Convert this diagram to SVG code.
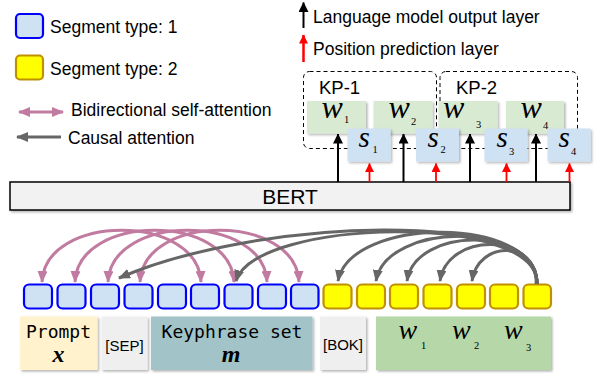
<svg xmlns="http://www.w3.org/2000/svg" width="595" height="374" viewBox="0 0 595 374">
<defs>
<style>
.lg{font-family:"Liberation Sans",Arial,sans-serif;font-size:17.5px;fill:#000}
.kp{font-family:"Liberation Sans",Arial,sans-serif;font-size:18.5px;fill:#000}
.tag{font-family:"Liberation Sans",Arial,sans-serif;font-size:15px;fill:#000;text-anchor:middle}
.mono{font-family:"DejaVu Sans Mono","Liberation Mono",monospace;font-size:18px;fill:#000;text-anchor:middle}
.bm{font-family:"Liberation Serif","DejaVu Serif",serif;font-style:italic;font-weight:bold;font-size:24px;text-anchor:middle}
.m{font-family:"Liberation Serif","DejaVu Serif",serif;font-style:italic;fill:#000}
.sub{font-family:"Liberation Serif","DejaVu Serif",serif;font-size:10.5px;fill:#000}
.tb{fill:#cfe2f3;stroke:#0000ff;stroke-width:2.2}
.ty{fill:#ffff00;stroke:#bf9000;stroke-width:2.2}
.wbox{fill:#d9ead3}
.sbox{fill:#cfe2f3}
.pink{fill:none;stroke:#c27ba0;stroke-width:3}
.gray{fill:none;stroke:#666666;stroke-width:3}
.blk{stroke:#000;stroke-width:2}
.red{stroke:#ff0000;stroke-width:1.8}
</style>
<filter id="sh" x="-10%" y="-10%" width="130%" height="140%">
<feDropShadow dx="1.5" dy="1.5" stdDeviation="1" flood-color="#000" flood-opacity="0.3"/>
</filter>
<marker id="ph" viewBox="0 0 12 10" refX="11" refY="5" markerWidth="12" markerHeight="10" markerUnits="userSpaceOnUse" orient="auto-start-reverse"><path d="M0,0 L12,5 L0,10 z" fill="#c27ba0"/></marker>
<marker id="gh" viewBox="0 0 12 10" refX="11" refY="5" markerWidth="12" markerHeight="10" markerUnits="userSpaceOnUse" orient="auto-start-reverse"><path d="M0,0 L12,5 L0,10 z" fill="#666666"/></marker>
<marker id="bh" viewBox="0 0 10 10" refX="9.5" refY="5" markerWidth="10" markerHeight="10" markerUnits="userSpaceOnUse" orient="auto"><path d="M0,0 L10,5 L0,10 z" fill="#000"/></marker>
<marker id="rh" viewBox="0 0 9 9" refX="8.5" refY="4.5" markerWidth="9" markerHeight="9" markerUnits="userSpaceOnUse" orient="auto"><path d="M0,0 L9,4.5 L0,9 z" fill="#ff0000"/></marker>
</defs>
<rect width="595" height="374" fill="#ffffff"/>

<g id="legend">
<rect x="16" y="14" width="27" height="24" rx="4" class="tb"/>
<text x="50" y="33" class="lg">Segment type: 1</text>
<rect x="16" y="55.5" width="27" height="24" rx="4" class="ty"/>
<text x="50" y="75" class="lg">Segment type: 2</text>
<line x1="19" y1="112" x2="63" y2="112" class="pink" marker-start="url(#ph)" marker-end="url(#ph)"/>
<text x="71" y="116" class="lg">Bidirectional self-attention</text>
<line x1="61" y1="137" x2="17" y2="137" class="gray" marker-end="url(#gh)"/>
<text x="68" y="143.5" class="lg">Causal attention</text>
<line x1="303.5" y1="28" x2="303.5" y2="2.5" class="blk" marker-end="url(#bh)"/>
<text x="313" y="22.5" class="lg">Language model output layer</text>
<line x1="303.5" y1="62" x2="303.5" y2="35" stroke="#ff0000" stroke-width="2.5" marker-end="url(#rh)"/>
<text x="313" y="55" class="lg">Position prediction layer</text>
</g>

<g id="kp1">
<rect x="303.5" y="71.5" width="133" height="77" rx="6" fill="none" stroke="#000" stroke-width="1" stroke-dasharray="4,3"/>
<text x="319" y="94" class="kp">KP-1</text>
</g>
<g id="kp2">
<rect x="440" y="71.5" width="137.5" height="77" rx="6" fill="none" stroke="#000" stroke-width="1" stroke-dasharray="4,3"/>
<text x="456" y="94" class="kp">KP-2</text>
</g>

<g id="w1"><rect x="307" y="101" width="59" height="32.5" class="wbox" filter="url(#sh)"/><text x="321.5" y="117.5" class="m" font-size="32">w</text><text x="344" y="123" class="sub">1</text></g>
<g id="w2"><rect x="373.5" y="101" width="59" height="32.5" class="wbox" filter="url(#sh)"/><text x="388.5" y="117.5" class="m" font-size="32">w</text><text x="411" y="124.5" class="sub">2</text></g>
<g id="w3"><rect x="438.5" y="101" width="59" height="32.5" class="wbox" filter="url(#sh)"/><text x="443" y="117.5" class="m" font-size="32">w</text><text x="476" y="128" class="sub" font-size="11.5">3</text></g>
<g id="w4"><rect x="506" y="101" width="58" height="32.5" class="wbox" filter="url(#sh)"/><text x="520.5" y="117.5" class="m" font-size="32">w</text><text x="543" y="128.5" class="sub" font-size="11.5">4</text></g>

<g id="s1"><rect x="347.5" y="128.5" width="43" height="33" class="sbox" filter="url(#sh)"/><text x="358.5" y="147" class="m" font-size="29">s</text><text x="372.5" y="153" class="sub">1</text></g>
<g id="s2"><rect x="416" y="128.5" width="43" height="33" class="sbox" filter="url(#sh)"/><text x="427.5" y="147" class="m" font-size="29">s</text><text x="440.5" y="153" class="sub">2</text></g>
<g id="s3"><rect x="484.5" y="128.5" width="43" height="33" class="sbox" filter="url(#sh)"/><text x="496.5" y="147" class="m" font-size="29">s</text><text x="509" y="155" class="sub" font-size="11.5">3</text></g>
<g id="s4"><rect x="547.5" y="128.5" width="43" height="33" class="sbox" filter="url(#sh)"/><text x="558.5" y="147" class="m" font-size="29">s</text><text x="571" y="155" class="sub" font-size="11.5">4</text></g>

<g id="bert">
<rect x="10" y="182" width="560" height="28" fill="#f2f2f2" stroke="#000" stroke-width="1.5" filter="url(#sh)"/>
<text x="290" y="204" font-family="Liberation Sans,Arial,sans-serif" font-size="21" text-anchor="middle">BERT</text>
</g>

<g id="tokens">
<rect x="24" y="284.5" width="28" height="24" rx="5" class="tb"/>
<rect x="57.5" y="284.5" width="28" height="24" rx="5" class="tb"/>
<rect x="91" y="284.5" width="28" height="24" rx="5" class="tb"/>
<rect x="124.5" y="284.5" width="28" height="24" rx="5" class="tb"/>
<rect x="158" y="284.5" width="28" height="24" rx="5" class="tb"/>
<rect x="191" y="284.5" width="28" height="24" rx="5" class="tb"/>
<rect x="224.5" y="284.5" width="28" height="24" rx="5" class="tb"/>
<rect x="258" y="284.5" width="28" height="24" rx="5" class="tb"/>
<rect x="291" y="284.5" width="27.5" height="24" rx="5" class="tb"/>
<rect x="323.5" y="284.5" width="28" height="24" rx="5" class="ty"/>
<rect x="357" y="284.5" width="28" height="24" rx="5" class="ty"/>
<rect x="390" y="284.5" width="28" height="24" rx="5" class="ty"/>
<rect x="423.5" y="284.5" width="28" height="24" rx="5" class="ty"/>
<rect x="457" y="284.5" width="28" height="24" rx="5" class="ty"/>
<rect x="490" y="284.5" width="28" height="24" rx="5" class="ty"/>
<rect x="523.5" y="284.5" width="27.5" height="24" rx="5" class="ty"/>
</g>

<g id="prompt"><rect x="20" y="316.5" width="77.5" height="53.5" fill="#fff2cc" filter="url(#sh)"/><text x="58.5" y="337.5" class="mono">Prompt</text><text x="58.5" y="361.5" class="bm">x</text></g>
<g id="sep"><rect x="101.5" y="316.5" width="46" height="53.5" fill="#efefef" filter="url(#sh)"/><text x="124.5" y="350.5" class="tag">[SEP]</text></g>
<g id="keyphrase"><rect x="151" y="316.5" width="161.5" height="53.5" fill="#a2c4c9" filter="url(#sh)"/><text x="232" y="337.5" class="mono">Keyphrase set</text><text x="231" y="361.5" class="bm">m</text></g>
<g id="bok"><rect x="320" y="316.5" width="46" height="53.5" fill="#efefef" filter="url(#sh)"/><text x="343" y="350" class="tag">[BOK]</text></g>
<g id="target"><rect x="376" y="316.5" width="175" height="53.5" fill="#b6d7a8" filter="url(#sh)"/>
<text x="398.5" y="339" class="m" font-size="28">w</text><text x="421" y="348.5" class="sub">1</text>
<text x="452" y="339" class="m" font-size="28">w</text><text x="474" y="349" class="sub">2</text>
<text x="504" y="339" class="m" font-size="28">w</text><text x="526" y="351" class="sub">3</text>
</g>

<g id="connectors">
<line x1="338" y1="182" x2="338" y2="134" class="blk" marker-end="url(#bh)"/>
<line x1="403.5" y1="182" x2="403.5" y2="134" class="blk" marker-end="url(#bh)"/>
<line x1="470" y1="182" x2="470" y2="134" class="blk" marker-end="url(#bh)"/>
<line x1="536" y1="182" x2="536" y2="134" class="blk" marker-end="url(#bh)"/>
<line x1="369.5" y1="182" x2="369.5" y2="163.5" class="red" marker-end="url(#rh)"/>
<line x1="436" y1="182" x2="436" y2="163.5" class="red" marker-end="url(#rh)"/>
<line x1="506.5" y1="182" x2="506.5" y2="163.5" class="red" marker-end="url(#rh)"/>
<line x1="569.5" y1="182" x2="569.5" y2="163.5" class="red" marker-end="url(#rh)"/>

<path d="M42 282 C45 213,198 213,201 282" class="pink" marker-start="url(#ph)" marker-end="url(#ph)"/>
<path d="M75 282 C78 213,231 213,234 282" class="pink" marker-start="url(#ph)" marker-end="url(#ph)"/>
<path d="M108 282 C111 213,264 213,267 282" class="pink" marker-start="url(#ph)" marker-end="url(#ph)"/>
<path d="M140 282 C143 213,296 213,299 282" class="pink" marker-start="url(#ph)" marker-end="url(#ph)"/>

<path d="M536 284 C544 209,260 217,119 278" class="gray" marker-end="url(#gh)"/>
<path d="M537 284 C540 212,255 218,236 281" class="gray" marker-end="url(#gh)"/>
<path d="M537 284 C537 215,350 216,338 281" class="gray" marker-end="url(#gh)"/>
<path d="M537 284 C537 221,386 221,376 281" class="gray" marker-end="url(#gh)"/>
<path d="M537 284 C537 226,415 226,407 281" class="gray" marker-end="url(#gh)"/>
<path d="M537 284 C537 232,447 232,440 281" class="gray" marker-end="url(#gh)"/>
<path d="M537 284 C537 240,478 240,472 281" class="gray" marker-end="url(#gh)"/>
</g>
</svg>
